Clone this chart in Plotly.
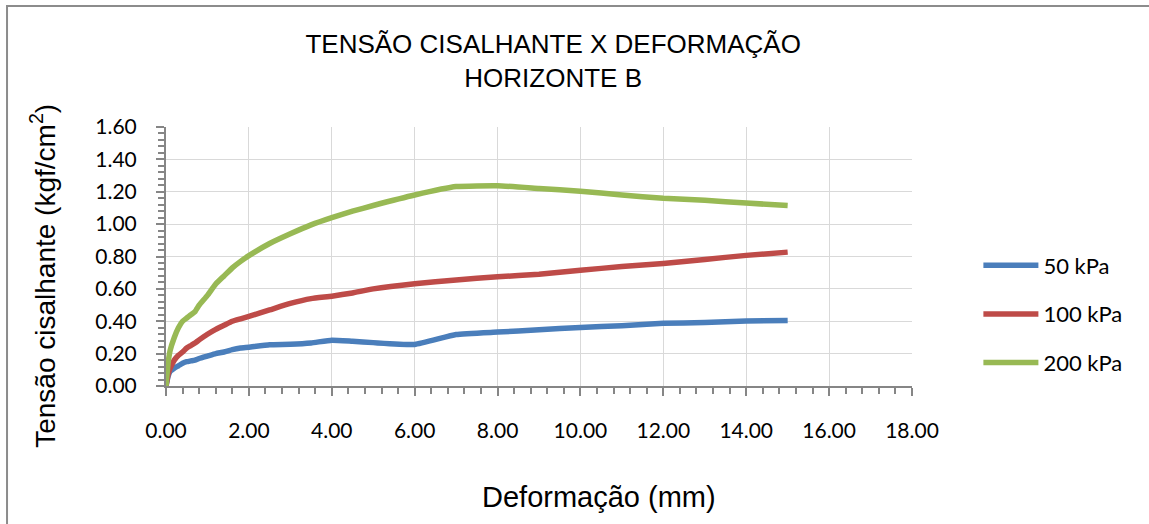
import plotly.graph_objects as go

# Horizontal displacement (mm)
deformacao = [0, 0.05, 0.1, 0.2, 0.3, 0.4, 0.5, 0.6, 0.7, 0.8, 1.0, 1.2, 1.4, 1.6, 1.8,
              2.0, 2.5, 3.0, 3.5, 4.0, 4.5, 5.0, 6.0, 7.0, 8.0, 9.0, 10.0, 11.0, 12.0,
              13.0, 14.0, 15.0]

# Shear stress (kgf/cm2) per normal stress
tensao_50 = [0, 0.06, 0.09, 0.11, 0.125, 0.14, 0.15, 0.155, 0.16, 0.17, 0.185, 0.20,
             0.21, 0.225, 0.235, 0.24, 0.255, 0.258, 0.266, 0.283, 0.276, 0.268, 0.257,
             0.318, 0.333, 0.347, 0.362, 0.372, 0.387, 0.392, 0.401, 0.405]
tensao_100 = [0, 0.07, 0.11, 0.16, 0.19, 0.21, 0.235, 0.25, 0.265, 0.285, 0.32, 0.35,
              0.375, 0.40, 0.415, 0.43, 0.47, 0.51, 0.54, 0.555, 0.575, 0.60, 0.632,
              0.655, 0.675, 0.69, 0.715, 0.738, 0.757, 0.782, 0.807, 0.827]
tensao_200 = [0, 0.14, 0.22, 0.30, 0.36, 0.40, 0.42, 0.44, 0.46, 0.50, 0.56, 0.63,
              0.68, 0.73, 0.77, 0.805, 0.88, 0.94, 0.995, 1.04, 1.08, 1.115, 1.18,
              1.232, 1.237, 1.22, 1.203, 1.18, 1.16, 1.147, 1.13, 1.115]

series = [
    ("50 kPa", tensao_50, "#4A7EBB"),
    ("100 kPa", tensao_100, "#BE4B48"),
    ("200 kPa", tensao_200, "#98B954"),
]

fig = go.Figure()
for i, (nome, valores, cor) in enumerate(series):
    fig.add_trace(go.Scatter(
        x=deformacao, y=valores, name=nome, mode="lines",
        legendgroup=f"g{i}",
        line=dict(color=cor, width=5.5, shape="spline", smoothing=0.4),
    ))

AXIS_GRAY = "#868686"
GRID_GRAY = "#D9D9D9"
TICK_FONT = dict(family="Lato, Calibri, sans-serif", size=21, color="#000000")
TEXT_FONT = "Liberation Sans, Arial, sans-serif"

fig.update_xaxes(
    range=[0, 18], dtick=2, tickformat=".2f", tickfont=TICK_FONT,
    showline=True, linecolor=AXIS_GRAY, linewidth=2,
    showgrid=True, gridcolor=GRID_GRAY, gridwidth=1,
    ticks="outside", ticklen=8, tickwidth=2, tickcolor=AXIS_GRAY,
    ticklabelstandoff=17,
    minor=dict(dtick=0.4, ticks="outside", ticklen=6, tickwidth=1.5,
               tickcolor=AXIS_GRAY, showgrid=False),
    zeroline=False,
)
fig.update_yaxes(
    range=[0, 1.6], dtick=0.2, tickformat=".2f", tickfont=TICK_FONT,
    showline=True, linecolor=AXIS_GRAY, linewidth=2,
    showgrid=True, gridcolor=GRID_GRAY, gridwidth=1,
    ticks="outside", ticklen=8, tickwidth=2, tickcolor=AXIS_GRAY,
    ticklabelstandoff=15,
    minor=dict(dtick=0.04, ticks="outside", ticklen=6, tickwidth=1.5,
               tickcolor=AXIS_GRAY, showgrid=False),
    zeroline=False,
)

fig.update_layout(
    width=1149, height=524,
    margin=dict(l=166, r=237, t=127, b=138),
    paper_bgcolor="white", plot_bgcolor="white",
    title=dict(
        text="TENSÃO CISALHANTE X DEFORMAÇÃO<br>HORIZONTE B",
        font=dict(family=TEXT_FONT, size=26, color="#000000"),
        x=0.519, xref="paper", xanchor="center",
        y=0.898, yref="container", yanchor="top",
    ),
    legend=dict(
        x=1.089, xanchor="left", y=0.278, yanchor="middle",
        font=dict(family="Lato, Calibri, sans-serif", size=22, color="#000000"),
        traceorder="grouped", tracegroupgap=17, itemwidth=55,
        bgcolor="rgba(0,0,0,0)",
    ),
    showlegend=True,
    annotations=[
        dict(text="Deformação (mm)", xref="paper", yref="paper",
             x=0.580, y=-0.428, xanchor="center", yanchor="middle",
             showarrow=False,
             font=dict(family=TEXT_FONT, size=29, color="#000000")),
        dict(text="Tensão cisalhante (kgf/cm<sup>2</sup>)", xref="paper", yref="paper",
             x=-0.165, y=0.425, xanchor="center", yanchor="middle",
             textangle=-90, showarrow=False,
             font=dict(family=TEXT_FONT, size=28, color="#000000")),
    ],
    shapes=[
        dict(type="rect", xref="paper", yref="paper",
             x0=-0.2131, x1=1.6, y0=-0.7, y1=1.467,
             line=dict(color="#8C8C8C", width=2), fillcolor="rgba(0,0,0,0)",
             layer="below"),
    ],
)

fig.write_html("out.html")
